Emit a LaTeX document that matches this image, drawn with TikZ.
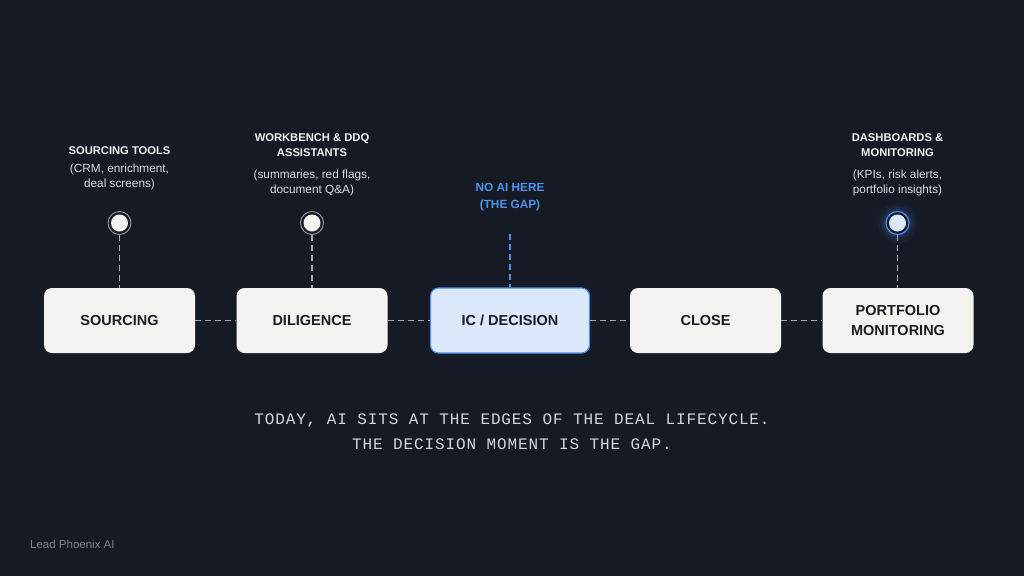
\documentclass[tikz,border=0pt]{standalone}
\usepackage{fontspec}
\setmainfont{Liberation Sans}
\newfontfamily\monofnt[LetterSpace=5.5]{Liberation Mono}
\definecolor{bg}{HTML}{161A25}
\definecolor{cream}{HTML}{F5F3EF}
\definecolor{boxtext}{HTML}{1A1C22}
\definecolor{icfill}{HTML}{DCE8FB}
\definecolor{icborder}{HTML}{4A8EF0}
\definecolor{gapblue}{HTML}{4F93EC}
\definecolor{dashgray}{HTML}{A3A7AE}
\definecolor{labwhite}{HTML}{F2F3F5}
\definecolor{descgray}{HTML}{D9DBDF}
\definecolor{capgray}{HTML}{D3D6DB}
\definecolor{footgray}{HTML}{7C818A}
\definecolor{ringgray}{HTML}{8C9099}
\tikzset{
  stage/.style={rounded corners=8pt, fill=cream, minimum width=151pt, minimum height=65pt,
    inner sep=0pt, align=center, text=boxtext, font=\fontsize{14.5}{20}\selectfont\bfseries},
  icstage/.style={stage, fill=icfill, draw=icborder, line width=1.2pt, minimum width=159pt},
  link/.style={draw=dashgray, line width=1.2pt, dash pattern=on 6pt off 4pt},
  gaplink/.style={draw=gapblue, line width=1.3pt, dash pattern=on 6pt off 4pt},
  toolhead/.style={align=center, text=labwhite, font=\fontsize{11.2}{15}\selectfont\bfseries, inner sep=0pt},
  tooldesc/.style={align=center, text=descgray, font=\fontsize{11.8}{15}\selectfont, inner sep=0pt},
  gaplabel/.style={align=center, text=gapblue, font=\fontsize{11.8}{17}\selectfont\bfseries, inner sep=0pt},
  dotring/.style={circle, draw=ringgray, line width=1pt, fill=bg, minimum size=23pt, inner sep=0pt},
  dotcore/.style={circle, fill=cream, minimum size=17pt, inner sep=0pt},
}
\begin{document}
\begin{tikzpicture}[x=1pt,y=-1pt]
\fill[bg] (0,0) rectangle (1024,576);
\useasboundingbox (0,0) rectangle (1024,576);

% stages
\node[stage] (src) at (119.5,320.5) {SOURCING};
\node[stage] (dil) at (312,320.5) {DILIGENCE};
\node[icstage] (ic) at (510,320.5) {IC / DECISION};
\node[stage] (cls) at (705.5,320.5) {CLOSE};
\node[stage] (pm) at (898,320.5) {PORTFOLIO\\MONITORING};

% horizontal links
\draw[link] (src.east) -- (dil.west);
\draw[link] (dil.east) -- (ic.west);
\draw[link] (ic.east) -- (cls.west);
\draw[link] (cls.east) -- (pm.west);

% tool dots
\node[dotring] (d1) at (119.5,223) {};
\node[dotcore] at (d1) {};
\node[dotring] (d2) at (312,223) {};
\node[dotcore] at (d2) {};
% glowing dot
\foreach \r/\o in {20/0.05,17/0.08,14/0.12}{
  \fill[icborder, opacity=\o] (897.5,223) circle (\r pt);
}
\node[dotring, draw=icborder, line width=1.2pt] (d3) at (897.5,223) {};
\node[dotcore, fill=icfill] at (d3) {};

\draw[link] (d1.south) -- (d1.south |- src.north);
\draw[link] (d2.south) -- (d2.south |- dil.north);
\draw[link] (d3.south) -- (d3.south |- pm.north);

% gap marker
\coordinate (gtop) at (510,234);
\draw[gaplink] (gtop) -- (ic.north);
\node[gaplabel] (gap) at (510,197.5) {NO AI HERE\\(THE GAP)};

% tool labels
\node[toolhead] (h1) at (119.5,151) {SOURCING TOOLS};
\node[tooldesc] (t1) at (119.5,176.5) {(CRM, enrichment,\\deal screens)};
\node[toolhead] (h2) at (312,145.5) {WORKBENCH \& DDQ\\ASSISTANTS};
\node[tooldesc] (t2) at (312,182.5) {(summaries, red flags,\\document Q\&A)};
\node[toolhead] (h3) at (897.5,145.5) {DASHBOARDS \&\\MONITORING};
\node[tooldesc] (t3) at (897.5,182.5) {(KPIs, risk alerts,\\portfolio insights)};

% caption
\node[align=center, text=capgray, inner sep=0pt, font=\monofnt\fontsize{16}{25.5}\selectfont] (cap) at (512,431.5)
  {TODAY, AI SITS AT THE EDGES OF THE DEAL LIFECYCLE.\\THE DECISION MOMENT IS THE GAP.};

% footer
\node[anchor=west, text=footgray, inner sep=0pt, font=\fontsize{11.5}{14}\selectfont] (foot) at (30,544) {Lead Phoenix AI};
\end{tikzpicture}
\end{document}
